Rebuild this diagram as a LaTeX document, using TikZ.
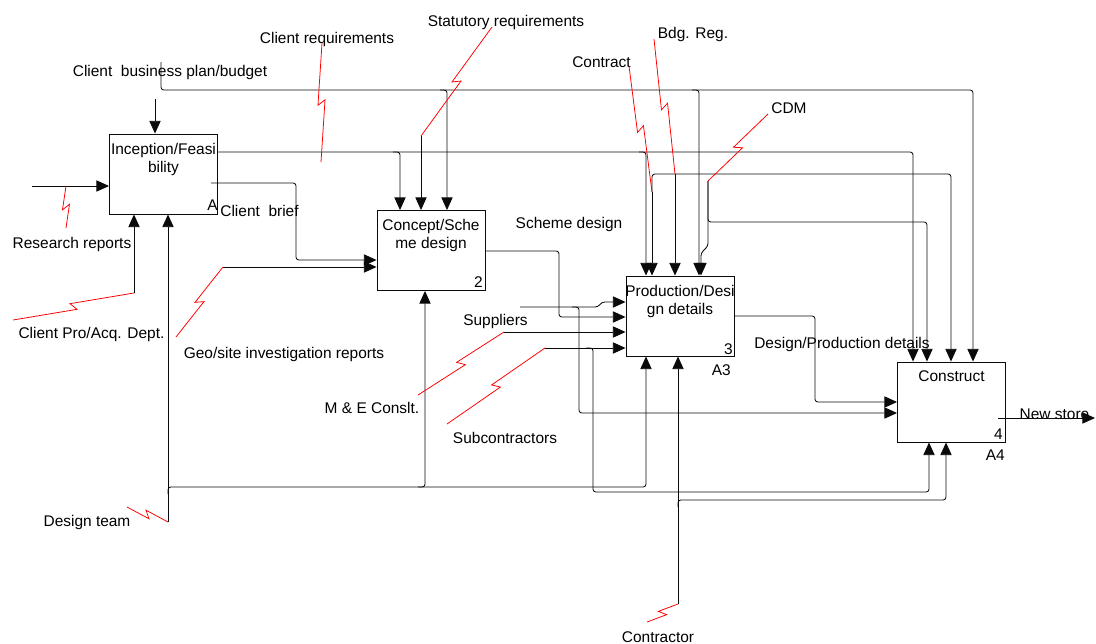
\documentclass[tikz,border=0pt]{standalone}
\usepackage{fontspec}
\setmainfont{Liberation Sans}
\usetikzlibrary{arrows.meta, positioning, calc}
\definecolor{boltred}{RGB}{255,0,0}
\definecolor{flowdark}{RGB}{10,10,10}
\tikzset{
  fn/.style={rectangle, draw=flowdark, minimum width=27mm, minimum height=20mm,
    line width=0.65pt},
  fntext/.style={align=center, inner sep=0pt, font=\fontsize{11}{13}\selectfont},
  lbl/.style={anchor=base, inner sep=0pt, font=\fontsize{11}{13}\selectfont},
  arrow/.style={-{Triangle[length=9pt,width=8pt]}, line width=0.6pt, color=flowdark,
    rounded corners=2pt},
  bolt/.style={line width=0.55pt, color=boltred}
}
\newcommand{\bolt}[2]{\draw[bolt] (#1) -- ($(#1)!0.5!(#2)!2pt!(#2)!2.5pt!-90:(#2)$)
  -- ($(#1)!0.5!(#2)!-2pt!(#2)!2.5pt!90:(#2)$) -- (#2);}

\begin{document}
\begin{tikzpicture}[x=0.25mm, y=-0.25mm]
  \useasboundingbox (0,0) rectangle (1096,644);

  % Activities
  \node[fn] (ince) at (163.5,174) {};
  \node[fn] (conc) at (431,250.5) {};
  \node[fn] (prod) at (680,316) {};
  \node[fn] (cons) at (951.5,402) {};
  \node[fntext, below=2.4mm of ince.north] (incet) {Inception/Feasi\\bility};
  \node[fntext, below=2.2mm of conc.north] (conct) {Concept/Sche\\me design};
  \node[fntext, below=2.4mm of prod.north] (prodt) {Production/Desi\\gn details};
  \node[fntext, below=2.2mm of cons.north] (const) {Construct};
  \node[lbl, anchor=base east] (incen) at (218,210) {A};
  \node[lbl, anchor=base east] (concn) at (483,287) {2};
  \node[lbl, anchor=base east] (prodn) at (733,354) {3};
  \node[lbl, anchor=base east] (prodr) at (731,375) {A3};
  \node[lbl, anchor=base east] (consn) at (1003,439) {4};
  \node[lbl, anchor=base east] (consr) at (1005,460) {A4};

  % Labels
  \node[lbl] (bpl) at (170,76) {Client\ \ business plan/budget};
  \node[lbl] (crl) at (327,43) {Client requirements};
  \node[lbl] (stl) at (506,26) {Statutory requirements};
  \node[lbl] (ctl) at (601.5,67) {Contract};
  \node[lbl] (brl) at (693,38) {Bdg. Reg.};
  \node[lbl] (cdl) at (789,113) {CDM};
  \node[lbl] (rrl) at (72,248) {Research reports};
  \node[lbl] (cpl) at (91.5,338) {Client Pro/Acq. Dept.};
  \node[lbl] (cbl) at (259.5,216) {Client\ \ brief};
  \node[lbl] (geol) at (284,358) {Geo/site investigation reports};
  \node[lbl] (sdl) at (569,228) {Scheme design};
  \node[lbl] (supl) at (495.5,325) {Suppliers};
  \node[lbl] (mel) at (372,413) {M \& E Conslt.};
  \node[lbl] (sbl) at (505,443) {Subcontractors};
  \node[lbl] (dpl) at (842,348) {Design/Production details};
  \node[lbl] (nsl) at (1054.5,419) {New store};
  \node[lbl] (dtl) at (87,526) {Design team};
  \node[lbl] (cral) at (658,642) {Contractor};

  % Free ends
  \coordinate (rrin) at (32,186);
  \coordinate (rrb) at (66,186);
  \coordinate (rrt) at (66,228);
  \coordinate (bpa) at (155,99);
  \coordinate (bpt) at (161,62);
  \coordinate (cpa) at (134,293);
  \coordinate (cpt) at (13,320);
  \coordinate (dta) at (168,522);
  \coordinate (dtb) at (168,494);
  \coordinate (dtt) at (127,507);
  \coordinate (cba) at (211,183);
  \coordinate (geoa) at (223,267);
  \coordinate (geot) at (176,337);
  \coordinate (crt) at (322,43);
  \coordinate (crb) at (321,162);
  \coordinate (sta) at (421,136);
  \coordinate (stt) at (492,27);
  \coordinate (cta) at (652,192);
  \coordinate (ctt) at (629,66);
  \coordinate (bra) at (675,174);
  \coordinate (brt) at (654,39);
  \coordinate (cda) at (708,181);
  \coordinate (cdt) at (768,114);
  \coordinate (supa) at (520,307);
  \coordinate (mea) at (504,332);
  \coordinate (met) at (418,395);
  \coordinate (sba) at (545,348);
  \coordinate (sbt) at (447,424);
  \coordinate (cra) at (678,604);
  \coordinate (crat) at (647,622);
  \coordinate (nsa) at (998,418);
  \coordinate (nsb) at (1095,418);

  % Inception inputs
  \draw[arrow] (rrin) -- (rrin -| ince.west);
  \bolt{rrb}{rrt}
  \draw[arrow] (bpa) -- (bpa |- ince.north);
  \draw[arrow] (cpa) -- (cpa |- ince.south);
  \bolt{cpa}{cpt}
  \draw[arrow] (dta) -- (dta |- ince.south);
  \bolt{dta}{dtt}

  % Business plan / budget
  \draw[arrow] (bpt) |- (973,90) -- (973,0 |- cons.north);
  \draw[arrow] (440,90) -| (447,0 |- conc.north);
  \draw[arrow] (692,90) -| (699,0 |- prod.north);

  % Client requirements
  \draw[arrow] (ince.east |- 0,152) -| (913,0 |- cons.north);
  \draw[arrow] (393,152) -| (400,0 |- conc.north);
  \draw[arrow] (639,152) -| (646,0 |- prod.north);
  \bolt{crt}{crb}

  % Concept inputs
  \draw[arrow] (cba) -| (296,260) -- (conc.west |- 0,260);
  \draw[arrow] (geoa) -- (geoa -| conc.west);
  \bolt{geoa}{geot}
  \draw[arrow] (sta) -- (sta |- conc.north);
  \bolt{stt}{sta}

  % Design team
  \draw[arrow] (dtb) |- (646,487) -- (646,0 |- prod.south);
  \draw[arrow] (418,487) -| (425,0 |- conc.south);

  % Scheme design
  \draw[arrow] (conc.east |- 0,251) -| (559,317) -- (prod.west |- 0,317);

  % Production inputs
  \draw[arrow] (supa) -- (598,307) -- (602,302) -- (prod.west |- 0,302);
  \draw[arrow] (572,307) -| (579,413) -- (cons.west |- 0,413);
  \draw[arrow] (mea) -- (mea -| prod.west);
  \bolt{mea}{met}
  \draw[arrow] (sba) -- (sba -| prod.west);
  \draw[arrow] (586,348) -| (593,492) -| (929,0 |- cons.south);
  \bolt{sba}{sbt}

  % Controls from the top
  \draw[arrow] (cta) |- (951,174) -- (951,0 |- cons.north);
  \draw[arrow] (cta) -- (cta |- prod.north);
  \bolt{ctt}{cta}
  \draw[arrow] (bra) -- (bra |- prod.north);
  \bolt{brt}{bra}
  \draw[arrow] (cda) -- (708,246) -- (701,253) -- (701,0 |- prod.north);
  \draw[arrow] (cda) |- (927,222) -- (927,0 |- cons.north);
  \bolt{cdt}{cda}

  % Design/Production details
  \draw[arrow] (prod.east |- 0,316) -| (815,402) -- (cons.west |- 0,402);

  % Contractor
  \draw[arrow] (cra) -- (cra |- prod.south);
  \draw[arrow] (678,507) |- (946,500) -- (946,0 |- cons.south);
  \bolt{cra}{crat}

  % Output
  \draw[arrow] (nsa) -- (nsb);
\end{tikzpicture}
\end{document}
